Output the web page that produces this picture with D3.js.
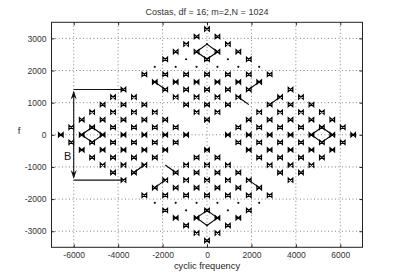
<!DOCTYPE html>
<html><head><meta charset="utf-8">
<script src="https://cdn.jsdelivr.net/npm/d3@7"></script>
<style>body{margin:0;background:#fff}svg{display:block}</style>
</head><body>
<script>
const title = "Costas, df = 16; m=2,N = 1024";
const xLabel = "cyclic frequency";
const yLabel = "f";
const xTicks = [-6000,-4000,-2000,0,2000,4000,6000];
const yTicks = [-3000,-2000,-1000,0,1000,2000,3000];

// rows of SCD peaks: f value of row, cyclic-frequency values, marker kinds (x = bowtie, . = dot)
const rowF = [3290,3055,2820,2585,2350,2115,1880,1645,1410,1175,940,705,470,235,0,
              -235,-470,-705,-940,-1175,-1410,-1645,-1880,-2115,-2350,-2585,-2820,-3055,-3290];
const rowAlpha = [
  [0],
  [-470,470],
  [-940,0,940],
  [-1410,-470,470,1410],
  [-1880,-940,0,940,1880],
  [-2350,-1410,-470,470,1410,2350],
  [-2820,-1880,-940,0,940,1880,2820],
  [-2350,-1410,-470,470,1410,2350],
  [-3760,-1880,-940,0,940,1880,3760],
  [-4230,-3290,-1410,-470,470,1410,3290,4230],
  [-4700,-3760,-2820,-940,0,940,2820,3760,4700],
  [-5170,-4230,-3290,-2350,-470,470,2350,3290,4230,5170],
  [-5640,-4700,-3760,-2820,-1880,0,1880,2820,3760,4700,5640],
  [-6110,-5170,-4230,-3290,-2350,-1410,1410,2350,3290,4230,5170,6110],
  [-6580,-5640,-4700,-3760,-2820,-1880,-940,940,1880,2820,3760,4700,5640,6580],
  [-6110,-5170,-4230,-3290,-2350,-1410,1410,2350,3290,4230,5170,6110],
  [-5640,-4700,-3760,-2820,-1880,0,1880,2820,3760,4700,5640],
  [-5170,-4230,-3290,-2350,-470,470,2350,3290,4230,5170],
  [-4700,-3760,-2820,-940,0,940,2820,3760,4700],
  [-4230,-3290,-1410,-470,470,1410,3290,4230],
  [-3760,-1880,-940,0,940,1880,3760],
  [-2350,-1410,-470,470,1410,2350],
  [-2820,-1880,-940,0,940,1880,2820],
  [-2350,-1410,-470,470,1410,2350],
  [-1880,-940,0,940,1880],
  [-1410,-470,470,1410],
  [-940,0,940],
  [-470,470],
  [0]
];
const rowKind = [
  "x","xx","x.x","xxxx","x.x.x","......","xxxxxxx","xxxxxx","xxxxxxx","xxxxxxxx",
  "xxxxxxxxx","xxxxxxxxxx","xxxxxxxxxxx","xxxxxxxxxxxx","xxxxxxxxxxxxxx",
  "xxxxxxxxxxxx","xxxxxxxxxxx","xxxxxxxxxx","xxxxxxxxx","xxxxxxxx","xxxxxxx",
  "xxxxxx","xxxxxxx","......","x.x.x","xxxx","x.x","xx","x"
];
// ridge lines joining neighbouring peaks: [alpha1, f1, alpha2, f2]
const ridges = [
  [0,2350,-470,2585],[-470,2585,0,2820],[0,2820,470,2585],[470,2585,0,2350],
  [0,-2350,-470,-2585],[-470,-2585,0,-2820],[0,-2820,470,-2585],[470,-2585,0,-2350],
  [4700,0,5170,235],[5170,235,5640,0],[5640,0,5170,-235],[5170,-235,4700,0],
  [-4700,0,-5170,235],[-5170,235,-5640,0],[-5640,0,-5170,-235],[-5170,-235,-4700,0],
  [-2350,1645,-1880,1410],[2350,-1645,1880,-1410],[-2350,-1645,-1880,-1410],[2350,1645,1880,1410],
  [1410,1175,1880,940],[2820,940,3290,1175],[-1410,-1175,-1880,-940],[-2820,-940,-3290,-1175]
];
// annotation "B": bandwidth marker
const bandTop = 1410, bandBottom = -1410, bandX = -6000, bandEnd = -3760;

const W = 401, H = 278;
const m = {l:51.5, r:362.5, t:22.3, b:247.3};
const x = d3.scaleLinear().domain([-7000,7000]).range([m.l, m.r]);
const y = d3.scaleLinear().domain([-3500,3500]).range([m.b, m.t]);

const svg = d3.select("body").append("svg").attr("width",W).attr("height",H)
  .style("font-family","'Liberation Sans', Arial, sans-serif");
svg.append("rect").attr("width",W).attr("height",H).attr("fill","#fff");

// grid
const grid = svg.append("g").attr("stroke","#666").attr("stroke-width",0.8).attr("stroke-dasharray","1,2.5");
grid.selectAll(".gx").data(xTicks).join("line")
  .attr("x1",d=>x(d)).attr("x2",d=>x(d)).attr("y1",m.t).attr("y2",m.b);
grid.selectAll(".gy").data(yTicks).join("line")
  .attr("y1",d=>y(d)).attr("y2",d=>y(d)).attr("x1",m.l).attr("x2",m.r);

// axes
const fs = "8.5px";
const gb = svg.append("g").attr("transform",`translate(0,${m.b})`)
  .call(d3.axisBottom(x).tickValues(xTicks).tickSize(-3).tickPadding(5).tickFormat(d3.format("d")));
const gt = svg.append("g").attr("transform",`translate(0,${m.t})`)
  .call(d3.axisTop(x).tickValues(xTicks).tickSize(-3).tickFormat(""));
const gl = svg.append("g").attr("transform",`translate(${m.l},0)`)
  .call(d3.axisLeft(y).tickValues(yTicks).tickSize(-3).tickPadding(5).tickFormat(d3.format("d")));
const gr = svg.append("g").attr("transform",`translate(${m.r},0)`)
  .call(d3.axisRight(y).tickValues(yTicks).tickSize(-3).tickFormat(""));
[gb,gt,gl,gr].forEach(g=>{
  g.select(".domain").remove();
  g.selectAll("line").attr("stroke","#222");
  g.selectAll("text").attr("fill","#333").style("font-size",fs).style("font-family","'Liberation Sans', Arial, sans-serif");
});
gb.selectAll("text").text(d=>d3.format("d")(d).replace("\u2212","-"));
gl.selectAll("text").text(d=>d3.format("d")(d).replace("\u2212","-"));
svg.append("rect").attr("x",m.l).attr("y",m.t).attr("width",m.r-m.l).attr("height",m.b-m.t)
  .attr("fill","none").attr("stroke","#222").attr("stroke-width",1);

// ridges
svg.append("g").attr("stroke","#000").attr("stroke-width",1.1).selectAll("line").data(ridges).join("line")
  .attr("x1",d=>x(d[0])).attr("y1",d=>y(d[1])).attr("x2",d=>x(d[2])).attr("y2",d=>y(d[3]));

// peaks
const pts = [];
rowF.forEach((f,i)=>rowAlpha[i].forEach((a,j)=>pts.push({a,f,k:rowKind[i][j]})));
const pg = svg.append("g");
pg.selectAll("path.bx").data(pts.filter(p=>p.k==="x")).join("path")
  .attr("transform",p=>`translate(${x(p.a)},${y(p.f)})`)
  .attr("d","M-2.3,-2.1L2.3,2.1L2.3,-2.1L-2.3,2.1Z")
  .attr("fill","none").attr("stroke","#000").attr("stroke-width",1.2);
pg.selectAll("circle").data(pts.filter(p=>p.k===".")).join("circle")
  .attr("cx",p=>x(p.a)).attr("cy",p=>y(p.f)).attr("r",1.1).attr("fill","#111");

// annotation
const ann = svg.append("g").attr("stroke","#111").attr("stroke-width",1.1);
ann.append("line").attr("x1",x(bandX)).attr("x2",x(bandEnd)).attr("y1",y(bandTop)).attr("y2",y(bandTop));
ann.append("line").attr("x1",x(bandX)).attr("x2",x(bandEnd)).attr("y1",y(bandBottom)).attr("y2",y(bandBottom));
ann.append("line").attr("x1",x(bandX)).attr("x2",x(bandX)).attr("y1",y(bandTop)+3).attr("y2",y(bandBottom)-3);
const ax = x(bandX);
svg.append("path").attr("d",`M${ax},${y(bandTop)+1}L${ax-3},${y(bandTop)+10}L${ax},${y(bandTop)+7}L${ax+3},${y(bandTop)+10}Z`).attr("fill","#111");
svg.append("path").attr("d",`M${ax},${y(bandBottom)-1}L${ax-3},${y(bandBottom)-10}L${ax},${y(bandBottom)-7}L${ax+3},${y(bandBottom)-10}Z`).attr("fill","#111");
svg.append("text").attr("x",x(bandX)-6).attr("y",y(-700)).attr("text-anchor","middle")
  .attr("dominant-baseline","middle").style("font-size","11px").attr("fill","#111").text("B");

// labels
svg.append("text").attr("x",(m.l+m.r)/2).attr("y",13).attr("text-anchor","middle")
  .attr("dominant-baseline","middle").style("font-size","9px").attr("fill","#333").text(title);
svg.append("text").attr("x",(m.l+m.r)/2).attr("y",267).attr("text-anchor","middle")
  .attr("dominant-baseline","middle").style("font-size","9.3px").attr("fill","#222").text(xLabel);
svg.append("text").attr("x",19).attr("y",131).attr("text-anchor","middle")
  .attr("dominant-baseline","middle").style("font-size","9.5px").attr("fill","#222").text(yLabel);
</script>
</body></html>
